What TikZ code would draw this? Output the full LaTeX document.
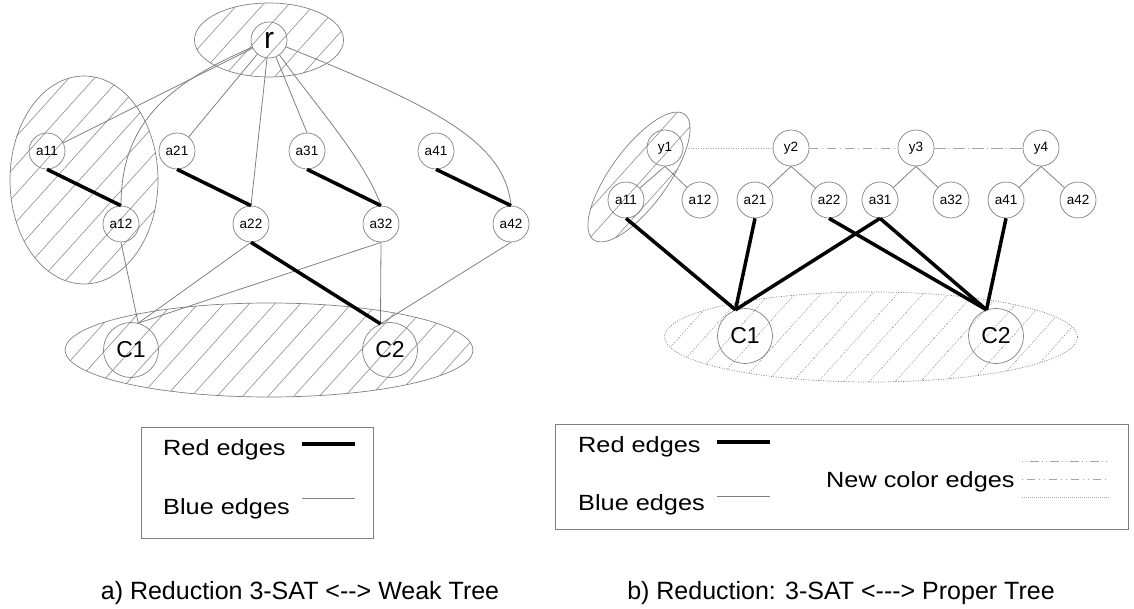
\documentclass[tikz,border=0pt]{standalone}
\usepackage{fontspec}
\setmainfont{Liberation Sans}
\newfontfamily\legendfont[FakeStretch=1.15]{Liberation Sans}
\usetikzlibrary{patterns.meta}

\begin{document}
\begin{tikzpicture}[x=1pt,y=-1pt,
    vertex/.style={circle,draw=gray,line width=0.7pt,inner sep=0pt,minimum size=36pt,
      font=\fontsize{13.5}{15}\selectfont},
    root/.style={vertex,font=\fontsize{30}{32}\selectfont},
    clause/.style={vertex,minimum size=55pt,font=\fontsize{23}{26}\selectfont},
    blueedge/.style={draw=gray,line width=0.8pt},
    rededge/.style={draw=black,line width=3.5pt},
    newedge/.style={draw=gray!70,line width=0.8pt},
    hatch/.style={draw=gray,line width=0.7pt,pattern color=gray!90,
      pattern={Lines[angle=48,distance=19pt,line width=0.6pt]}},
    legendtext/.style={font=\legendfont\fontsize{22}{26}\selectfont,inner sep=0pt,anchor=west},
    captiontext/.style={font=\fontsize{25}{28}\selectfont,inner sep=0pt}]
  \useasboundingbox (0,0) rectangle (1134,609);

  % a) weak tree
  \draw[hatch] (269,40) ellipse [x radius=74.5pt, y radius=37pt];
  \draw[hatch] (84,180) ellipse [x radius=74pt, y radius=104pt];
  \draw[hatch] (269,350) ellipse [x radius=204pt, y radius=47pt];

  \node[root] (r) at (269,40) {r};
  \node[vertex] (a11) at (47,151) {a11};
  \node[vertex] (a21) at (177,151) {a21};
  \node[vertex] (a31) at (307,151) {a31};
  \node[vertex] (a41) at (436,151) {a41};
  \node[vertex] (a12) at (121,224) {a12};
  \node[vertex] (a22) at (251,224) {a22};
  \node[vertex] (a32) at (381,224) {a32};
  \node[vertex] (a42) at (511,224) {a42};
  \node[clause] (C1) at (131,350) {C1};
  \node[clause] (C2) at (390,350) {C2};

  \path[blueedge] (r) edge (a11)
  edge (a21)
  edge (a22.north)
  edge (a31.north)
  (a12.south) edge (C1.75)
  (a22.south) edge (C1.75)
  (a32.south) edge (C1.75)
  edge (C2.110)
  (a42.south) edge (C2.110);
  \draw[blueedge] (r) .. controls (165,85) and (121,125) .. (a12.north);
  \draw[blueedge] (r) .. controls (315,105) and (365,160) .. (a32.north);
  \draw[blueedge] (r) .. controls (430,105) and (505,140) .. (a42.north);

  \path[rededge] (a11.south) edge (a12.north)
  (a21.south) edge (a22.north)
  (a31.south) edge (a32.north)
  (a41.south) edge (a42.north)
  (a22.south) edge (C2.110);

  \draw[gray] (141,427) rectangle (373,538);
  \node[legendtext] (redA) at (163,450) {Red edges};
  \node[legendtext] (blueA) at (163,509) {Blue edges};
  \draw[rededge] (302,444) -- (355,444);
  \draw[blueedge] (302,498) -- (355,498);
  \node[captiontext] (capA) at (300,593) {a) Reduction 3-SAT <-{}-> Weak Tree};

  % b) proper tree
  \draw[hatch,dash pattern=on 1pt off 1.5pt] (871,337) ellipse [x radius=206.5pt, y radius=45pt];
  \draw[hatch] plot[domain=0:355,samples=72,smooth cycle]
    ({639+77.5*cos(\x)*cos(54)+28.6*sin(\x)*sin(54)},
     {177-77.5*cos(\x)*sin(54)+28.6*sin(\x)*cos(54)});

  \node[vertex] (y1) at (665,148) {y1};
  \node[vertex] (y2) at (791,148) {y2};
  \node[vertex] (y3) at (916,148) {y3};
  \node[vertex] (y4) at (1041,148) {y4};
  \node[vertex] (ra11) at (626,200) {a11};
  \node[vertex] (ra12) at (700,200) {a12};
  \node[vertex] (ra21) at (755,200) {a21};
  \node[vertex] (ra22) at (829,200) {a22};
  \node[vertex] (ra31) at (880,200) {a31};
  \node[vertex] (ra32) at (951,200) {a32};
  \node[vertex] (ra41) at (1006,200) {a41};
  \node[vertex] (ra42) at (1078,200) {a42};
  \node[clause] (rC1) at (745,336) {C1};
  \node[clause] (rC2) at (996,336) {C2};

  \path[blueedge] (y1.south) edge (ra11) edge (ra12)
  (y2.south) edge (ra21) edge (ra22)
  (y3.south) edge (ra31) edge (ra32)
  (y4.south) edge (ra41) edge (ra42);
  \draw[newedge,dash pattern=on 1pt off 1.5pt] (y1) -- (y2);
  \draw[newedge,dash pattern=on 9pt off 4pt on 1pt off 4pt] (y2) -- (y3);
  \draw[newedge,dash pattern=on 12pt off 3pt on 1pt off 3pt] (y3) -- (y4);

  \path[rededge] (ra11.south) edge (rC1.110)
  (ra21.south) edge (rC1.110)
  (ra31.south) edge (rC1.110)
  edge (rC2.110)
  (ra22.south) edge (rC2.110)
  (ra41.south) edge (rC2.110);

  \draw[gray] (555,424) rectangle (1128,529);
  \node[legendtext] (redB) at (578,447) {Red edges};
  \node[legendtext] (blueB) at (578,505) {Blue edges};
  \node[legendtext] (newB) at (826,482) {New color edges};
  \draw[rededge] (717,442) -- (770,442);
  \draw[blueedge] (717,496) -- (770,496);
  \draw[newedge,dash pattern=on 1pt off 3pt on 1pt off 3pt on 9pt off 3pt] (1022,461) -- (1110,461);
  \draw[newedge,dash pattern=on 1pt off 4pt on 8pt off 4pt on 1pt off 4pt] (1022,479) -- (1110,479);
  \draw[newedge,dash pattern=on 1pt off 1pt] (1022,497) -- (1110,497);
  \node[captiontext] (capB) at (841,593) {b) Reduction: 3-SAT <-{}-{}-> Proper Tree};
\end{tikzpicture}
\end{document}
